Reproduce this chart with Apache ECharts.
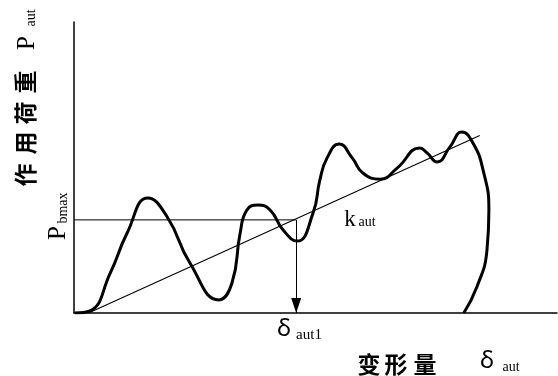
<!DOCTYPE html>
<html>
<head>
<meta charset="utf-8">
<script src="https://cdn.jsdelivr.net/npm/echarts@6/dist/echarts.min.js"></script>
<style>
  html, body { margin: 0; padding: 0; background: #fff; }
  #chart { width: 558px; height: 376px; }
</style>
</head>
<body>
<div id="chart"></div>
<script>
// Load–deformation curve (deformation, load), arbitrary units
const curveDeform = [0.2, 3.3, 7.5, 11.0, 15.3, 19.3, 24.0, 30.0, 32.7, 34.4, 35.8, 38.1, 40.6, 43.3, 46.2,
  49.5, 50.9, 52.4, 54.9, 57.6, 59.8, 63.4, 66.9, 71.6, 73.1, 75.2, 77.8, 80.3, 82.6, 84.7, 85.9, 85.5, 83.4, 80.7];
const curveLoad = [0, 0.7, 13.7, 27.5, 39.5, 33.0, 17.2, 4.5, 10.3, 27.5, 35.4, 37.1, 35.4, 28.5, 24.7,
  34.4, 45.7, 53.3, 58.1, 53.3, 48.1, 46.0, 49.8, 56.7, 55.0, 51.9, 57.0, 62.2, 58.4, 49.1, 35.4, 21.6, 8.9, 0];

// Secant stiffness line k_aut
const secantDeform = [3.0, 84.0];
const secantLoad = [0, 61.0];

// Reference level P_bmax and the matching deformation δ_aut1
const pBmax = 32;
const deltaAut1 = 46;

const chart = echarts.init(document.getElementById('chart'));

const serif = '"Liberation Serif", "Times New Roman", serif';
const cjk = '"Noto Sans CJK SC", "Noto Sans CJK JP", sans-serif';
const greek = '"Noto Sans", "DejaVu Sans", sans-serif';

function txt(x, y, text, size, family, opts) {
  return Object.assign({
    type: 'text', x: x, y: y, rotation: 0,
    style: {
      text: text, fill: '#000', font: (opts && opts.weight ? opts.weight + ' ' : '') + size + 'px ' + family,
      align: 'center', verticalAlign: 'middle'
    }
  }, opts && opts.rotation !== undefined ? { rotation: opts.rotation } : {});
}
const R = Math.PI / 2;

chart.setOption({
  animation: false,
  grid: { left: 74, right: 1, top: 22, bottom: 63 },
  xAxis: {
    type: 'value', min: 0, max: 100,
    axisLine: { show: true, onZero: false, lineStyle: { color: '#000', width: 1.5 } },
    axisTick: { show: false }, axisLabel: { show: false }, splitLine: { show: false }
  },
  yAxis: {
    type: 'value', min: 0, max: 100,
    axisLine: { show: true, lineStyle: { color: '#000', width: 1.5 } },
    axisTick: { show: false }, axisLabel: { show: false }, splitLine: { show: false }
  },
  series: [
    {
      type: 'line', name: 'curve', symbol: 'none', smooth: 0.5,
      data: curveDeform.map((d, i) => [d, curveLoad[i]]),
      lineStyle: { color: '#000', width: 3 }, z: 3
    },
    {
      type: 'line', name: 'secant', symbol: 'none',
      data: secantDeform.map((d, i) => [d, secantLoad[i]]),
      lineStyle: { color: '#000', width: 1.1 }
    },
    {
      type: 'line', name: 'level', symbol: 'none',
      data: [[0, pBmax], [deltaAut1, pBmax]],
      lineStyle: { color: '#000', width: 1 },
      markLine: {
        silent: true,
        symbol: ['none', 'triangle'],
        symbolSize: [10, 15],
        symbolOffset: [0, [0, '50%']],
        label: { show: false },
        lineStyle: { color: '#000', width: 1, type: 'solid' },
        itemStyle: { color: '#000' },
        data: [[{ coord: [deltaAut1, pBmax] }, { coord: [deltaAut1, 0] }]]
      }
    }
  ],
  graphic: [
    // vertical axis title
    txt(25, 175, '作', 23, cjk, { rotation: R, weight: 'bold' }),
    txt(25, 143, '用', 23, cjk, { rotation: R, weight: 'bold' }),
    txt(25, 113, '荷', 23, cjk, { rotation: R, weight: 'bold' }),
    txt(25, 82, '重', 23, cjk, { rotation: R, weight: 'bold' }),
    txt(27, 43, 'P', 25, serif, { rotation: R }),
    txt(31, 18, 'aut', 14, serif, { rotation: R }),
    // P_bmax label
    txt(58, 233, 'P', 25, serif, { rotation: R }),
    txt(63, 208, 'bmax', 14, serif, { rotation: R }),
    // k_aut
    txt(350, 220, 'k', 23, serif),
    txt(367, 222, 'aut', 14, serif),
    // δ_aut1
    txt(284, 329, 'δ', 24, greek),
    txt(309, 335, 'aut1', 15, serif),
    // horizontal axis title
    txt(369, 364, '变', 23, cjk, { weight: 'bold' }),
    txt(396, 364, '形', 23, cjk, { weight: 'bold' }),
    txt(425, 364, '量', 23, cjk, { weight: 'bold' }),
    txt(487, 361, 'δ', 24, greek),
    txt(511, 367, 'aut', 14, serif)
  ]
});
</script>
</body>
</html>
